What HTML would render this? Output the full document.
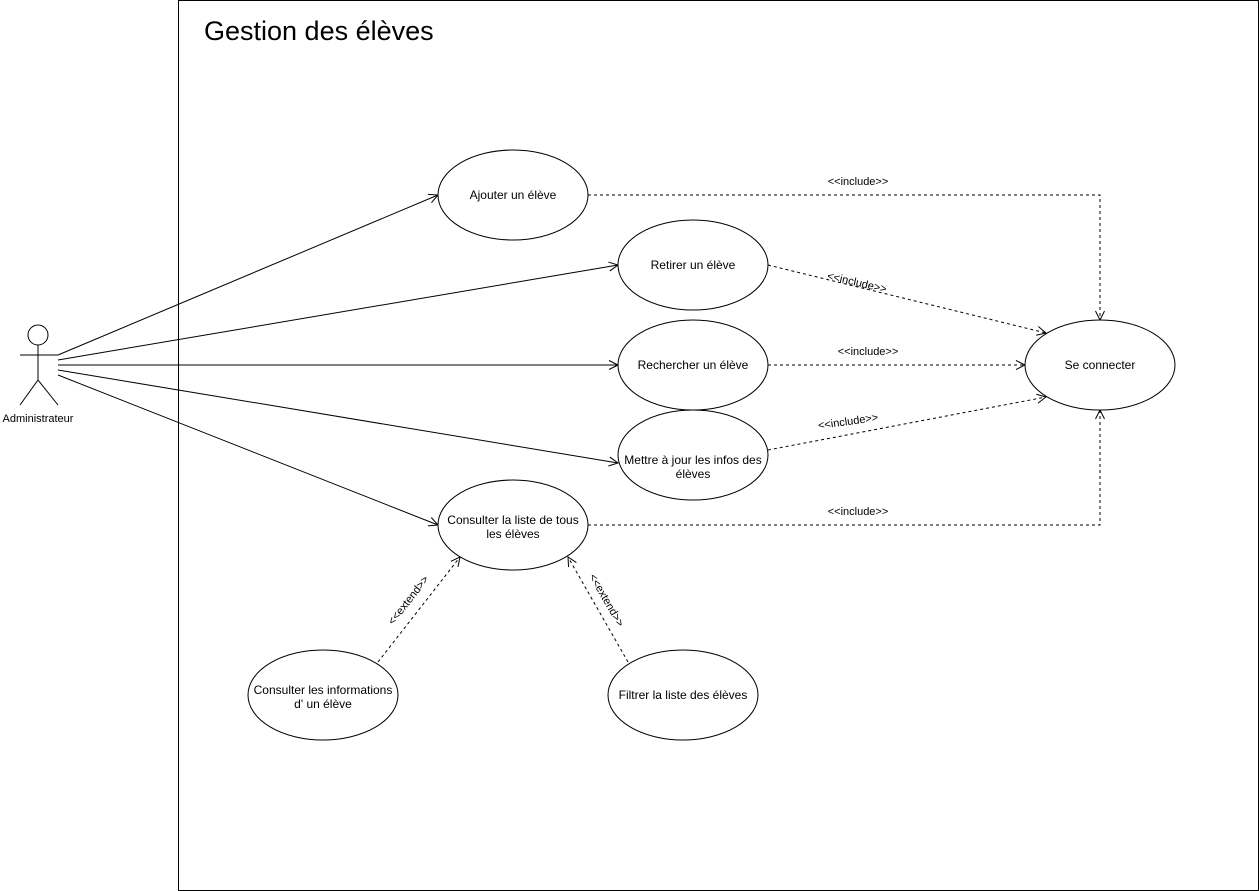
<!DOCTYPE html>
<html><head><meta charset="utf-8"><style>body{margin:0;background:#fff}svg{display:block}text{font-family:"Liberation Sans",Arial,sans-serif;fill:#000}</style></head><body>
<svg width="1259" height="891" viewBox="0 0 1259 891" xmlns="http://www.w3.org/2000/svg">
<defs><marker id="a" markerWidth="12" markerHeight="10" refX="10" refY="5" orient="auto" markerUnits="userSpaceOnUse"><path d="M1,0.5 L10,5 L1,9.5" fill="none" stroke="#000" stroke-width="1"/></marker></defs>
<rect x="178.5" y="0.5" width="1080" height="890" fill="#fff" stroke="#000"/>
<text x="204" y="40" font-size="27">Gestion des élèves</text>
<g stroke="#000" fill="none" stroke-width="1">
<circle cx="38" cy="335" r="10"/>
<line x1="38" y1="345" x2="38" y2="380"/>
<line x1="20" y1="355" x2="58" y2="355"/>
<line x1="38" y1="380" x2="20" y2="405"/>
<line x1="38" y1="380" x2="58" y2="405"/>
</g>
<text x="38" y="422" font-size="11" text-anchor="middle">Administrateur</text>
<g stroke="#000" fill="none" marker-end="url(#a)">
<line x1="58" y1="355" x2="438" y2="195"/>
<line x1="58" y1="360" x2="618" y2="265"/>
<line x1="58" y1="365" x2="618" y2="365"/>
<line x1="58" y1="370" x2="618" y2="463"/>
<line x1="58" y1="375" x2="438" y2="525"/>
</g>
<g stroke="#000" fill="none" stroke-dasharray="3,3" marker-end="url(#a)">
<polyline points="588,195 1100,195 1100,320"/>
<line x1="768" y1="265" x2="1046" y2="333"/>
<line x1="768" y1="365" x2="1025" y2="365"/>
<line x1="768" y1="450" x2="1046" y2="397"/>
<polyline points="588,525 1100,525 1100,410"/>
<line x1="378" y1="662" x2="460" y2="557"/>
<line x1="628" y1="662" x2="568" y2="557"/>
</g>
<g fill="#fff" stroke="#000">
<ellipse cx="513" cy="195" rx="75" ry="45"/>
<ellipse cx="693" cy="265" rx="75" ry="45"/>
<ellipse cx="693" cy="365" rx="75" ry="45"/>
<ellipse cx="693" cy="455" rx="75" ry="45"/>
<ellipse cx="513" cy="525" rx="75" ry="45"/>
<ellipse cx="1100" cy="365" rx="75" ry="45"/>
<ellipse cx="323" cy="695" rx="75" ry="45"/>
<ellipse cx="683" cy="695" rx="75" ry="45"/>
</g>
<g font-size="12" text-anchor="middle">
<text x="513" y="199">Ajouter un élève</text>
<text x="693" y="269">Retirer un élève</text>
<text x="693" y="369">Rechercher un élève</text>
<text x="693" y="464">Mettre à jour les infos des</text>
<text x="693" y="478">élèves</text>
<text x="513" y="524">Consulter la liste de tous</text>
<text x="513" y="538">les élèves</text>
<text x="1100" y="369">Se connecter</text>
<text x="323" y="694">Consulter les informations</text>
<text x="323" y="708">d' un élève</text>
<text x="683" y="699">Filtrer la liste des élèves</text>
</g>
<g font-size="11" text-anchor="middle" fill="#333">
<text x="858" y="185">&lt;&lt;include&gt;&gt;</text>
<text x="857" y="286" transform="rotate(13 857 282)">&lt;&lt;include&gt;&gt;</text>
<text x="868" y="355">&lt;&lt;include&gt;&gt;</text>
<text x="848" y="425" transform="rotate(-8 848 421)">&lt;&lt;include&gt;&gt;</text>
<text x="858" y="515">&lt;&lt;include&gt;&gt;</text>
<text x="408" y="604" transform="rotate(-52 408 600)">&lt;&lt;extend&gt;&gt;</text>
<text x="607" y="604" transform="rotate(60 607 600)">&lt;&lt;extend&gt;&gt;</text>
</g>
</svg>
</body></html>
